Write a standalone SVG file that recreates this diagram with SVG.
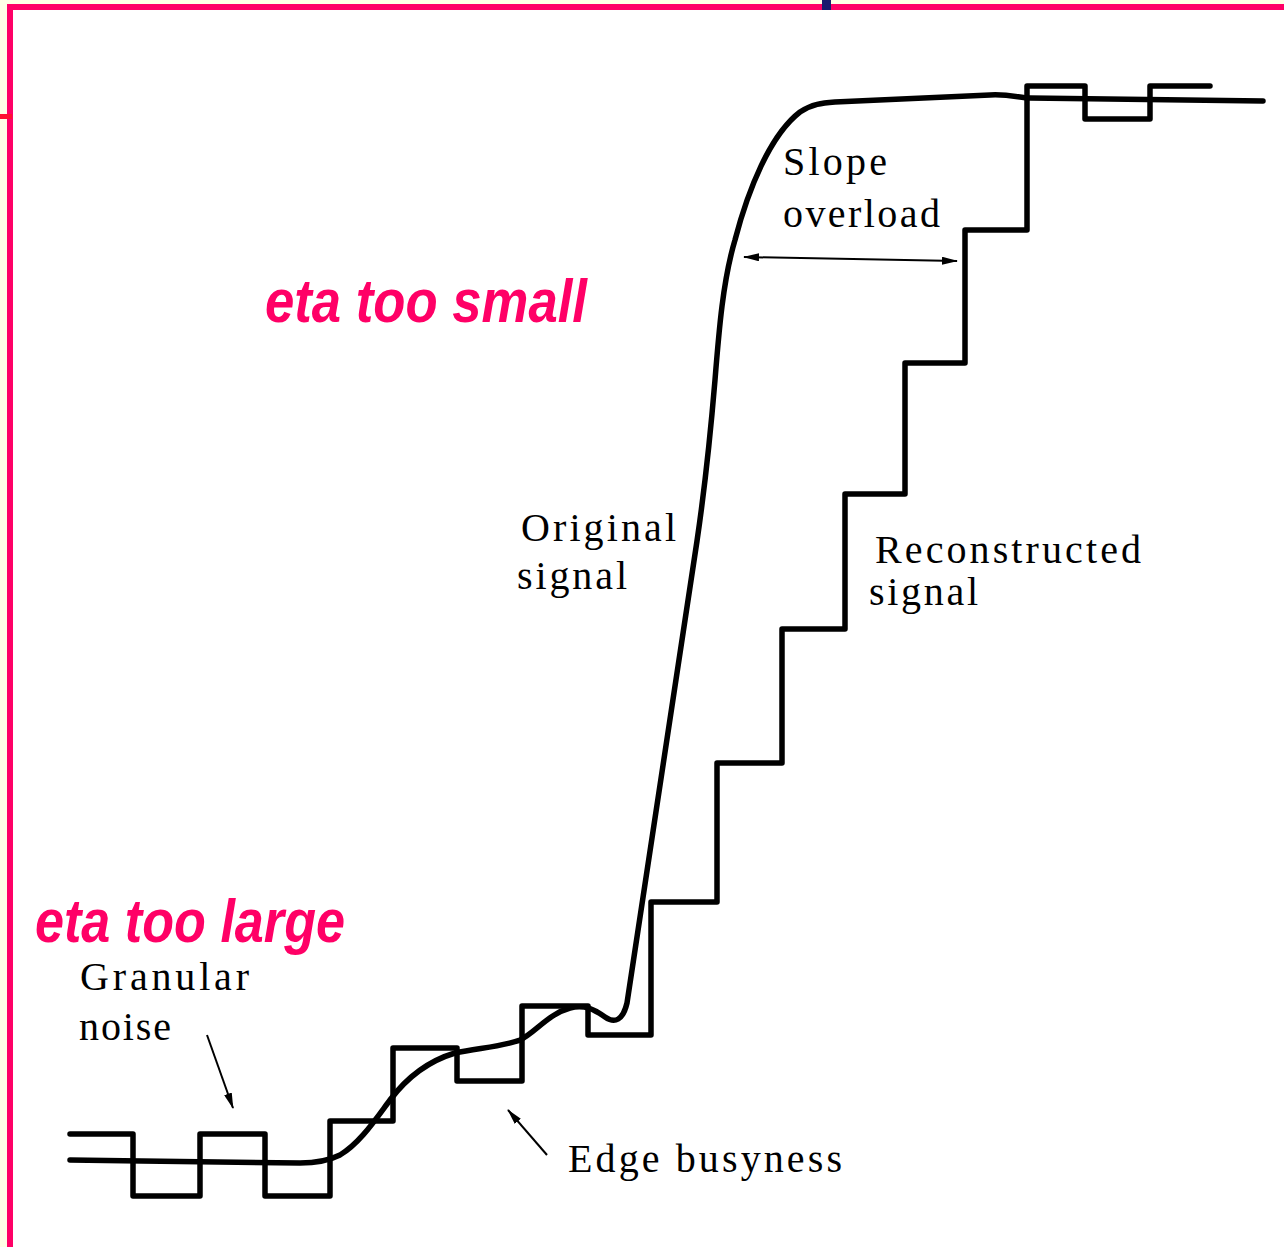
<svg xmlns="http://www.w3.org/2000/svg" width="1284" height="1247" viewBox="0 0 1284 1247">
  <defs>
    <style>
      .sig { fill: none; stroke: #000; stroke-width: 5.5; stroke-linejoin: round; stroke-linecap: round; }
      .ptr { fill: none; stroke: #000; stroke-width: 2; }
      .lbl { font-family: "Liberation Serif", "Times New Roman", serif; font-size: 40px; fill: #000; }
      .hdr { font-family: "Liberation Sans", Arial, sans-serif; font-size: 62px; font-weight: bold; font-style: italic; fill: #FF0066; }
    </style>
    <marker id="head" viewBox="0 0 16 8" refX="15" refY="4" markerWidth="16" markerHeight="8" markerUnits="userSpaceOnUse" orient="auto-start-reverse">
      <path d="M0,0 L16,4 L0,8 Z" fill="#000"/>
    </marker>
  </defs>

  <!-- page frame -->
  <rect x="0" y="0" width="1284" height="1247" fill="#FFFFFF"/>
  <rect x="0" y="0" width="1284" height="4" fill="#FFFFE6"/>
  <rect x="0" y="0" width="7" height="1247" fill="#FFFFE6"/>
  <rect x="7" y="4" width="1277" height="6" fill="#FF0066"/>
  <rect x="7" y="4" width="6" height="1243" fill="#FF0066"/>
  <rect x="0" y="114" width="12" height="5" fill="#FF1030"/>
  <rect x="822" y="0" width="9" height="10" fill="#1A1A6E"/>

  <!-- signals -->
  <g id="reconstructed-signal">
    <path class="sig" d="M70,1134 H133 V1196 H200 V1134 H265 V1196 H330 V1121 H393 V1048 H457 V1081 H522 V1006 H588 V1035 H651 V902 H717 V763 H782 V629 H845 V494 H905 V363 H965 V230 H1027 V86 H1085 V119 H1150 V86 H1210"/>
  </g>
  <g id="original-signal">
    <path class="sig" d="M70,1160 C150,1161 250,1163 300,1163 C318,1163 330,1160 340,1155 C360,1143 375,1120 390,1100 C405,1080 425,1062 455,1053 C480,1048 505,1046 520,1040 C535,1033 548,1014 570,1008 C585,1004 595,1010 605,1017 C615,1024 623,1020 627,1003
      L697,541
      C703,500 710,440 715,380
      C719,330 723,280 735,240
      C748,190 770,135 800,112
      C812,104 822,103 835,102
      L990,95 C1010,94 1020,98 1030,98 L1263,101"/>
  </g>

  <!-- annotation pointers -->
  <g id="connectors">
    <line class="ptr" x1="744" y1="257" x2="957" y2="261" marker-start="url(#head)" marker-end="url(#head)"/>
    <line class="ptr" x1="207" y1="1035" x2="233" y2="1108" marker-end="url(#head)"/>
    <line class="ptr" x1="547" y1="1155" x2="508" y2="1110" marker-end="url(#head)"/>
  </g>

  <!-- labels -->
  <g id="label-slope-overload">
    <text class="lbl" x="783" y="175" textLength="104">Slope</text>
    <text class="lbl" x="783" y="227" textLength="157">overload</text>
  </g>
  <g id="label-original">
    <text class="lbl" x="521" y="541" textLength="155">Original</text>
    <text class="lbl" x="517" y="589" textLength="110">signal</text>
  </g>
  <g id="label-reconstructed">
    <text class="lbl" x="875" y="563" textLength="266">Reconstructed</text>
    <text class="lbl" x="869" y="605" textLength="109">signal</text>
  </g>
  <g id="label-granular">
    <text class="lbl" x="80" y="990" textLength="169">Granular</text>
    <text class="lbl" x="79" y="1040" textLength="92">noise</text>
  </g>
  <g id="label-edge">
    <text class="lbl" x="568" y="1172" textLength="274">Edge busyness</text>
  </g>
  <g id="title-small">
    <text class="hdr" x="265" y="322" textLength="322" lengthAdjust="spacingAndGlyphs">eta too small</text>
  </g>
  <g id="title-large">
    <text class="hdr" x="35" y="942" textLength="310" lengthAdjust="spacingAndGlyphs">eta too large</text>
  </g>
</svg>
